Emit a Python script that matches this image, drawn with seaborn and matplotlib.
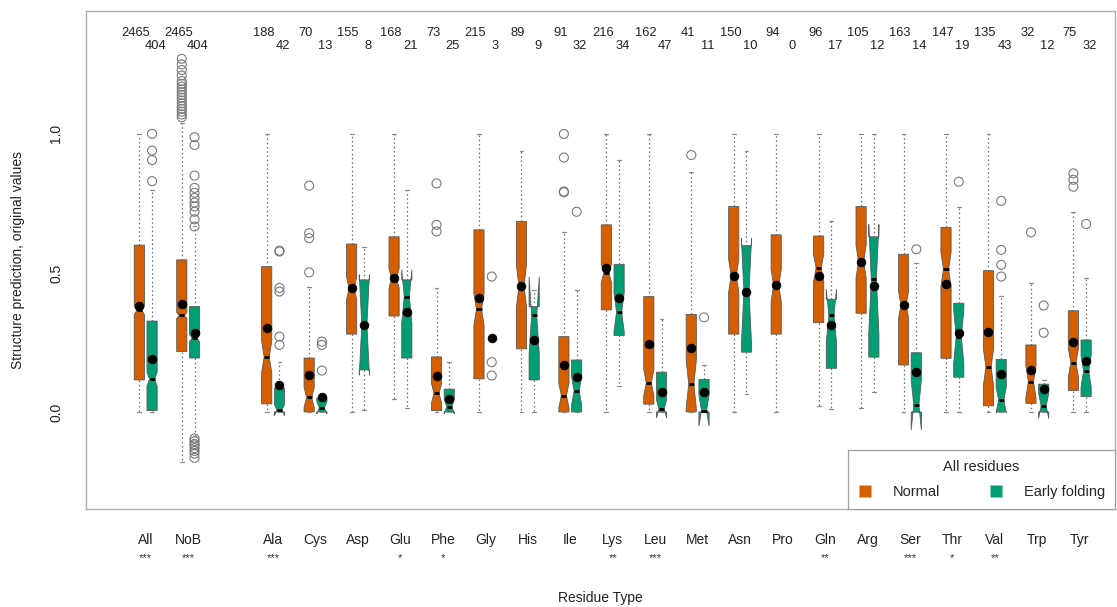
import numpy as np
import pandas as pd
import matplotlib
matplotlib.use("Agg")
import matplotlib.pyplot as plt
import seaborn as sns
from matplotlib.lines import Line2D
from matplotlib.transforms import blended_transform_factory

# ---- residue groups -------------------------------------------------------
residues = ["All", "NoB", "Ala", "Cys", "Asp", "Glu", "Phe", "Gly", "His", "Ile",
            "Lys", "Leu", "Met", "Asn", "Pro", "Gln", "Arg", "Ser", "Thr", "Val",
            "Trp", "Tyr"]
significance = ["***", "***", "***", "", "", "*", "*", "", "", "", "**", "***",
                "", "", "", "**", "", "***", "*", "**", "", ""]

n_normal = [2465, 2465, 188, 70, 155, 168, 73, 215, 89, 91, 216, 162, 41, 150,
            94, 96, 105, 163, 147, 135, 32, 75]
n_early = [404, 404, 42, 13, 8, 21, 25, 3, 9, 32, 34, 47, 11, 10, 0, 17, 12,
           14, 19, 43, 12, 32]

# ---- normal residues: box statistics --------------------------------------
normal_q1 = [0.115, 0.217, 0.029, 0.000, 0.280, 0.345, 0.005, 0.119, 0.227, 0.000,
             0.367, 0.028, 0.000, 0.280, 0.280, 0.321, 0.355, 0.169, 0.193, 0.022,
             0.031, 0.077]
normal_med = [0.365, 0.347, 0.198, 0.052, 0.445, 0.480, 0.067, 0.369, 0.453, 0.059,
              0.499, 0.105, 0.100, 0.490, 0.455, 0.517, 0.541, 0.385, 0.513, 0.161,
              0.109, 0.177]
normal_q3 = [0.600, 0.547, 0.523, 0.194, 0.604, 0.630, 0.198, 0.655, 0.685, 0.271,
             0.673, 0.415, 0.351, 0.739, 0.637, 0.633, 0.739, 0.567, 0.664, 0.508,
             0.241, 0.364]
normal_lo = [0.000, -0.180, 0.000, 0.000, 0.000, 0.047, 0.000, 0.000, 0.000, 0.000,
             0.000, 0.000, 0.000, 0.000, 0.000, 0.022, 0.013, 0.000, 0.000, 0.000,
             0.000, 0.000]
normal_hi = [1.000, 1.040, 1.000, 0.450, 1.000, 1.000, 0.445, 1.000, 0.939, 0.646,
             1.000, 1.000, 0.862, 1.000, 1.000, 1.000, 1.000, 1.000, 1.000, 1.000,
             0.465, 0.720]
normal_mean = [0.380, 0.388, 0.303, 0.133, 0.445, 0.480, 0.131, 0.411, 0.453, 0.169,
               0.519, 0.245, 0.231, 0.490, 0.455, 0.489, 0.541, 0.385, 0.460, 0.287,
               0.151, 0.250]
normal_out = [
    [],
    [1.27, 1.25, 1.23, 1.21, 1.19, 1.18, 1.17, 1.16, 1.15, 1.14, 1.13, 1.12,
     1.11, 1.10, 1.09, 1.08, 1.07, 1.06],
    [], [0.814, 0.643, 0.625, 0.502], [], [], [0.822, 0.673, 0.649], [], [],
    [1.000, 0.915, 0.793, 0.790], [], [], [0.924], [], [], [], [], [], [], [],
    [0.646], [0.858, 0.835, 0.810],
]

# ---- early folding residues: box statistics (None = too few values) -------
early_q1 = [0.005, 0.194, 0.000, 0.000, 0.151, 0.194, 0.000, None, 0.115, 0.000,
            0.275, 0.000, 0.000, 0.215, None, 0.157, 0.197, 0.000, 0.125, 0.000,
            0.000, 0.055]
early_med = [0.118, 0.266, 0.007, 0.015, 0.313, 0.415, 0.019, None, 0.347, 0.076,
             0.359, 0.011, 0.005, 0.433, None, 0.347, 0.477, 0.025, 0.271, 0.043,
             0.022, 0.147]
early_q3 = [0.327, 0.379, 0.086, 0.050, 0.475, 0.475, 0.082, None, 0.379, 0.187,
            0.531, 0.143, 0.117, 0.598, None, 0.405, 0.630, 0.213, 0.391, 0.189,
            0.100, 0.259]
early_lo = [0.000, -0.085, 0.000, 0.000, 0.007, 0.016, 0.000, None, 0.000, 0.000,
            0.093, 0.000, 0.000, 0.065, None, 0.011, 0.073, 0.000, 0.000, 0.000,
            0.000, 0.000]
early_hi = [0.800, 0.667, 0.180, 0.050, 0.595, 0.800, 0.181, None, 0.439, 0.439,
            0.906, 0.335, 0.169, 0.940, None, 0.685, 1.000, 0.535, 0.736, 0.417,
            0.115, 0.483]
early_mean = [0.190, 0.284, 0.097, 0.055, 0.313, 0.360, 0.047, 0.265, 0.258, 0.124,
              0.409, 0.073, 0.071, 0.433, None, 0.313, 0.453, 0.143, 0.283, 0.136,
              0.082, 0.183]
early_out = [
    [1.000, 0.940, 0.906, 0.830],
    [0.988, 0.960, 0.850, 0.806, 0.788, 0.770, 0.753, 0.739, 0.720, 0.693, 0.667,
     -0.095, -0.105, -0.115, -0.120, -0.130, -0.140, -0.150, -0.165],
    [0.580, 0.577, 0.446, 0.433, 0.271, 0.241], [0.253, 0.241, 0.149], [], [], [],
    [0.487, 0.179, 0.131], [], [0.720], [], [], [0.340], [], [], [], [],
    [0.585], [0.828], [0.759, 0.583, 0.529, 0.487], [0.383, 0.285], [0.676],
]

# ---- style ----------------------------------------------------------------
sns.set_theme(style="white")
plt.rcParams["font.family"] = ["Liberation Sans", "DejaVu Sans"]
palette = sns.color_palette("colorblind")
col_normal = palette[3]
col_early = palette[2]
grey = "#9a9a9a"

# slot positions: the two summary groups, an empty slot, then the residues
slots = [0, 1] + list(range(3, 3 + len(residues) - 2))
offset = 0.15
box_w = 0.24


def box_stats(q1, med, q3, lo, hi, counts):
    stats, pos_idx = [], []
    for i in range(len(residues)):
        if q1[i] is None:
            continue
        iqr = q3[i] - q1[i]
        notch = 1.58 * iqr / np.sqrt(counts[i])
        stats.append(dict(med=med[i], q1=q1[i], q3=q3[i], whislo=lo[i],
                          whishi=hi[i], cilo=med[i] - notch,
                          cihi=med[i] + notch, fliers=[]))
        pos_idx.append(i)
    return stats, pos_idx


fig = plt.figure(figsize=(11.17, 6.07), dpi=100)
ax = fig.add_axes([86 / 1117, 1 - 509 / 607, (1115 - 86) / 1117, (509 - 11) / 607])

for q1, med, q3, lo, hi, counts, colr, sgn in [
        (normal_q1, normal_med, normal_q3, normal_lo, normal_hi, n_normal, col_normal, -1),
        (early_q1, early_med, early_q3, early_lo, early_hi, n_early, col_early, 1)]:
    stats, idx = box_stats(q1, med, q3, lo, hi, counts)
    ax.bxp(stats, positions=[slots[i] + sgn * offset for i in idx],
           widths=box_w, capwidths=0.09, shownotches=True, showfliers=False,
           patch_artist=True,
           boxprops=dict(facecolor=colr, edgecolor="#5a5a5a", linewidth=0.6),
           whiskerprops=dict(color="#6a6a6a", linestyle=(0, (1.2, 2.2)), linewidth=0.9),
           capprops=dict(color="#8a8a8a", linewidth=0.9),
           medianprops=dict(color="black", linewidth=2.0, solid_capstyle="butt"))

# means and outlying values
mean_rows, out_rows = [], []
for i in range(len(residues)):
    for sgn, means, outs in [(-1, normal_mean, normal_out), (1, early_mean, early_out)]:
        x = slots[i] + sgn * offset
        if means[i] is not None:
            mean_rows.append(dict(x=x, value=means[i]))
        for v in outs[i]:
            out_rows.append(dict(x=x, value=v))
mean_df = pd.DataFrame(mean_rows)
out_df = pd.DataFrame(out_rows)

sns.scatterplot(data=out_df, x="x", y="value", ax=ax, marker="o", s=42,
                facecolor="none", edgecolor="#7a7a7a", linewidth=0.8,
                legend=False, zorder=4)
sns.scatterplot(data=mean_df, x="x", y="value", ax=ax, color="black", s=40,
                edgecolor="black", linewidth=0.5, legend=False, zorder=5)

# axes
ax.set_xlim(-1.406, 22.83)
ax.set_ylim(-0.349, 1.442)
ax.set_xlabel("")
ax.set_ylabel("")
ax.set_xticks(range(0, 23))
labels = [""] * 23
for i, s in enumerate(slots):
    labels[s] = residues[i]
ax.set_xticklabels(labels, fontsize=10)
ax.set_yticks([0.0, 0.5, 1.0])
ax.set_yticklabels(["0.0", "0.5", "1.0"], fontsize=10, rotation=90, va="center")
ax.tick_params(axis="x", length=6, width=0.9, color=grey, pad=11, colors="#222222")
ax.tick_params(axis="y", length=6.5, width=0.9, color=grey, pad=10, colors="#222222")
for t in ax.xaxis.get_ticklines() + ax.yaxis.get_ticklines():
    t.set_color(grey)
for sp in ax.spines.values():
    sp.set_color("#b0b0b0")
    sp.set_linewidth(1.0)

# sample sizes above the groups
trans = blended_transform_factory(ax.transData, ax.transAxes)
for i, s in enumerate(slots):
    ax.text(s - 0.23, 0.955, str(n_normal[i]), transform=trans,
            ha="center", va="center", fontsize=9.3, color="#222222")
    ax.text(s + 0.23, 0.929, str(n_early[i]), transform=trans,
            ha="center", va="center", fontsize=9.3, color="#222222")

# significance stars under the residue names
for i, s in enumerate(slots):
    if significance[i]:
        ax.text(s, -0.098, significance[i], transform=trans, ha="center",
                va="center", fontsize=8, color="#333333", clip_on=False)

fig.text(600 / 1117, 1 - 598 / 607, "Residue Type", ha="center", va="center",
         fontsize=10, color="#222222")
fig.text(18 / 1117, 1 - 260 / 607, "Structure prediction, original values",
         ha="center", va="center", rotation=90, fontsize=10, color="#222222")

handles = [Line2D([], [], marker="s", linestyle="none", markersize=8,
                  markerfacecolor=col_normal, markeredgecolor="none"),
           Line2D([], [], marker="s", linestyle="none", markersize=8,
                  markerfacecolor=col_early, markeredgecolor="none")]
leg = ax.legend(handles, ["Normal", "Early folding"], title="All residues", ncol=2,
                loc="lower right", borderaxespad=0.0, frameon=True, fancybox=False,
                edgecolor="#a0a0a0", fontsize=10.5, title_fontsize=10.5,
                handlelength=1.0, handletextpad=1.4, columnspacing=3.3,
                borderpad=0.7, labelspacing=0.75, framealpha=1.0)
leg.get_frame().set_linewidth(0.9)

fig.savefig("out.png", dpi=100)
